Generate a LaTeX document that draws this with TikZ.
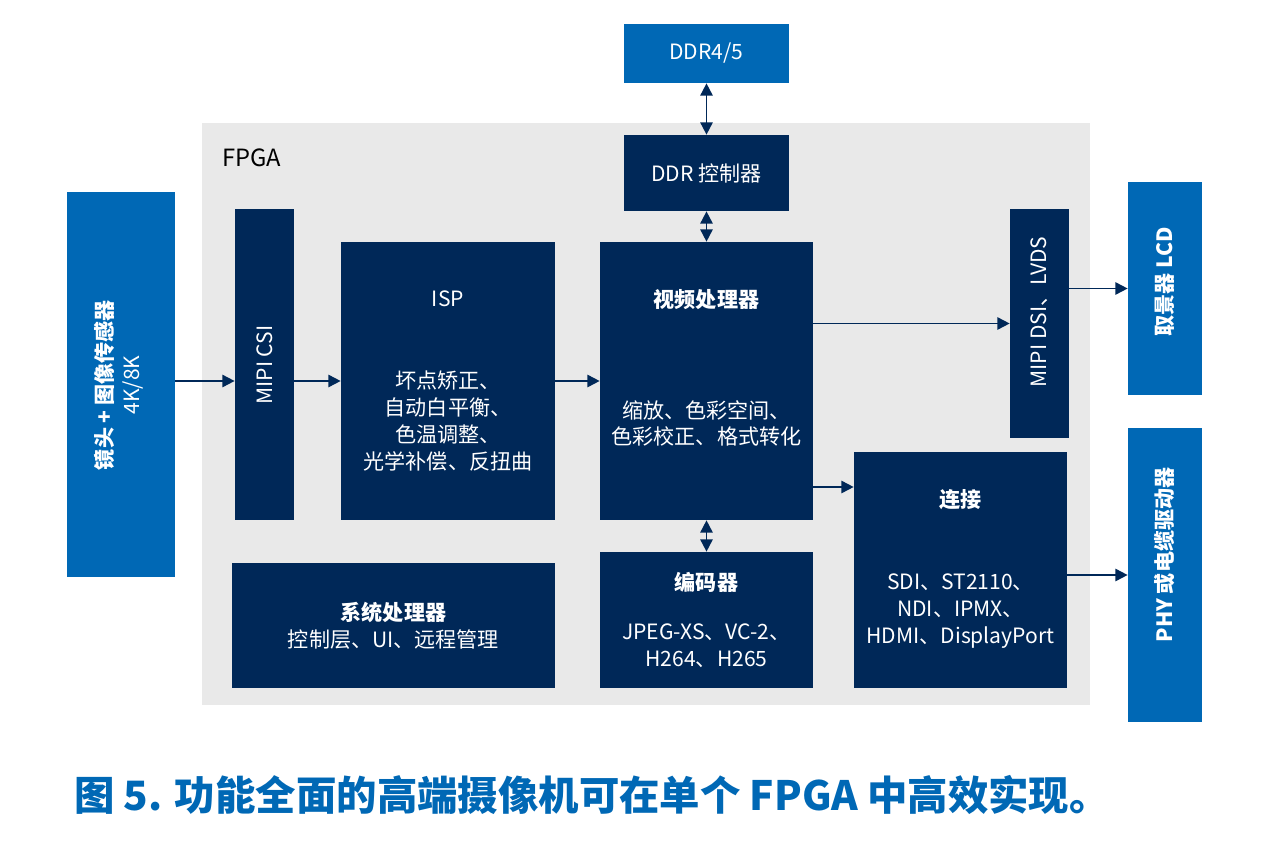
\documentclass[tikz,border=0pt]{standalone}
\usepackage{fontspec}
\setmainfont{Noto Sans CJK SC}
\usetikzlibrary{arrows.meta}
\definecolor{intelblue}{RGB}{0,104,181}
\definecolor{navy}{RGB}{0,40,88}
\definecolor{fpgagray}{RGB}{233,233,233}
\newcommand{\blkfont}{\fontsize{12}{15.3}\selectfont}
\newcommand{\capfont}{\fontsize{23}{28}\selectfont\bfseries}
\tikzstyle{fpga} = [rectangle, fill=fpgagray, inner sep=0pt]
\tikzstyle{block} = [rectangle, fill=navy, text=white, inner sep=0pt, align=center, font=\blkfont]
\tikzstyle{ext} = [rectangle, fill=intelblue, text=white, inner sep=0pt, align=center, font=\blkfont]
\tikzstyle{head} = [text=white, align=center, font=\bfseries\blkfont]
\tikzstyle{body} = [text=white, align=center, font=\blkfont]
\tikzstyle{vtext} = [text=white, align=center, rotate=90, font=\blkfont]
\tikzstyle{arrow} = [line width=1pt, draw=navy, -{Triangle[length=7pt, width=7pt]}]
\tikzstyle{biarrow} = [line width=1pt, draw=navy, {Triangle[length=7pt, width=7pt]}-{Triangle[length=7pt, width=7pt]}]

\begin{document}
\begin{tikzpicture}[x=0.02cm, y=-0.02cm]
\useasboundingbox (0,0) rectangle (1280,844);

% FPGA area
\node (fpga) [fpga, minimum width=17.76cm, minimum height=11.64cm] at (646,414) {};
\node (fpgalabel) [anchor=west, font=\fontsize{13.5}{15}\selectfont] at (216,158) {FPGA};

% memory
\node (ddr) [ext, minimum width=3.30cm, minimum height=1.18cm] at (706.5,53.5) {DDR4/5};
\node (ddrctl) [block, minimum width=3.30cm, minimum height=1.52cm] at (706.5,173) {DDR 控制器};

% input side
\node (sensor) [ext, minimum width=2.16cm, minimum height=7.70cm] at (121,384.5) {};
\node (sensortext) [vtext] at (119,385) {\textbf{镜头 + 图像传感器}\\4K/8K};
\node (csi) [block, minimum width=1.18cm, minimum height=6.22cm] at (264.5,364.5) {};
\node (csitext) [vtext] at (264.5,365) {MIPI CSI};
\node (isp) [block, minimum width=4.28cm, minimum height=5.56cm] at (448,381) {ISP\\[31.7pt]坏点矫正、\\自动白平衡、\\色温调整、\\光学补偿、反扭曲};

% processing
\node (vproc) [block, minimum width=4.26cm, minimum height=5.56cm] at (706.5,381) {};
\node (vproctitle) [head] at (706.5,300) {视频处理器};
\node (vprocbody) [body] at (706.5,423.5) {缩放、色彩空间、\\色彩校正、格式转化};
\node (enc) [block, minimum width=4.26cm, minimum height=2.72cm] at (706.5,620) {};
\node (enctitle) [head] at (706.5,582) {编码器};
\node (encbody) [body] at (706.5,646) {JPEG-XS、VC-2、\\H264、H265};
\node (sys) [block, minimum width=6.46cm, minimum height=2.50cm] at (393.5,625.5) {\textbf{系统处理器}\\控制层、UI、远程管理};

% output side
\node (conn) [block, minimum width=4.26cm, minimum height=4.72cm] at (960.5,570) {};
\node (conntitle) [head] at (960.5,500) {连接};
\node (connbody) [body] at (960.5,611) {SDI、ST2110、\\NDI、IPMX、\\HDMI、DisplayPort};
\node (dsi) [block, minimum width=1.18cm, minimum height=4.58cm] at (1039.5,323.5) {};
\node (dsitext) [vtext] at (1039.5,312) {MIPI DSI、LVDS};
\node (lcd) [ext, minimum width=1.48cm, minimum height=4.26cm] at (1165,288.5) {};
\node (lcdtext) [vtext, font=\bfseries\blkfont] at (1165,282) {取景器 LCD};
\node (phy) [ext, minimum width=1.48cm, minimum height=5.88cm] at (1165,575) {};
\node (phytext) [vtext, font=\bfseries\blkfont] at (1165,555) {PHY 或电缆驱动器};

\node (caption) [anchor=west, text=intelblue, font=\capfont] at (68,795) {图 5. 功能全面的高端摄像机可在单个 FPGA 中高效实现。};

% connectors
\coordinate (vout) at (0,487);
\draw [arrow] (sensor.east |- isp) -- (csi.west |- isp);
\draw [arrow] (csi.east |- isp) -- (isp.west);
\draw [arrow] (isp.east) -- (vproc.west);
\draw [arrow] (vproc.east |- dsi) -- (dsi.west);
\draw [arrow] (dsi.east |- lcd) -- (lcd.west);
\draw [arrow] (vproc.east |- vout) -- (conn.west |- vout);
\draw [arrow] (conn.east |- phy) -- (phy.west);
\draw [biarrow] (ddr) -- (ddrctl);
\draw [biarrow] (ddrctl) -- (vproc);
\draw [biarrow] (vproc) -- (enc);
\end{tikzpicture}
\end{document}
